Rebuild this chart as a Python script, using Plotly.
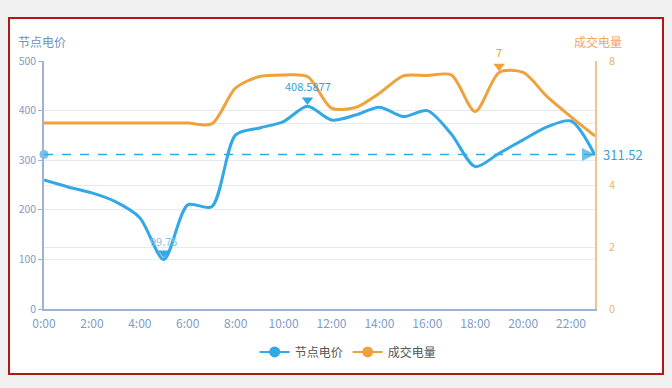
import plotly.graph_objects as go

# ---------------- data ----------------
hours = list(range(24))
x_tick_vals = [0, 2, 4, 6, 8, 10, 12, 14, 16, 18, 20, 22]
x_tick_text = ["0:00", "2:00", "4:00", "6:00", "8:00", "10:00", "12:00",
               "14:00", "16:00", "18:00", "20:00", "22:00"]

price_name = "节点电价"
volume_name = "成交电量"

price = [260, 246, 234, 216, 184.14, 99.75, 210, 206, 351, 365, 378, 408.5877,
         381, 391, 407, 388, 400, 353, 287, 314, 341, 367, 379, 310]
volume = [6.0, 6.0, 6.0, 6.0, 6.0, 6.0, 6.0, 5.97, 7.13, 7.5, 7.55, 7.5,
          6.48, 6.5, 6.96, 7.52, 7.53, 7.55, 6.37, 7.63, 7.63, 6.85, 6.2, 5.58]

left_ticks = [0, 100, 200, 300, 400, 500]
right_ticks = [0, 2, 4, 6, 8]
right_tick_text = ["0", "2", "4", "", "8"]

# ---------------- styles ----------------
BLUE = "#33a8e6"
ORANGE = "#f0a03c"
AXIS_BLUE = "#9db3d6"
LABEL_BLUE = "#7f9cc8"
GRID = "#e4e9f2"
FONT = "Noto Sans CJK SC"
PIN_LIFT_LEFT = 13    # about 6 px on the left axis
PIN_LIFT_RIGHT = 0.2  # about 6 px on the right axis

mean_price = sum(price) / len(price)
i_max = price.index(max(price))
i_min = price.index(min(price))
j_max = volume.index(max(volume))

fig = go.Figure()

# average mark line
fig.add_trace(go.Scatter(
    x=[hours[0], hours[-1]], y=[mean_price, mean_price],
    mode="lines+markers",
    line=dict(color=BLUE, width=1.3, dash="dash"),
    marker=dict(symbol=["circle", "arrow-right"], size=[9, 13], color=BLUE,
                line=dict(width=0)),
    hoverinfo="skip", showlegend=False, cliponaxis=False))

fig.add_trace(go.Scatter(
    x=hours, y=volume, yaxis="y2", mode="lines",
    line=dict(color=ORANGE, width=3, shape="spline", smoothing=0.8),
    showlegend=False, cliponaxis=False, name=volume_name))

fig.add_trace(go.Scatter(
    x=hours, y=price, mode="lines",
    line=dict(color=BLUE, width=3, shape="spline", smoothing=0.8),
    showlegend=False, cliponaxis=False, name=price_name))

# mark-point pins
fig.add_trace(go.Scatter(
    x=[hours[i_max], hours[i_min]],
    y=[price[i_max] + PIN_LIFT_LEFT, price[i_min] + PIN_LIFT_LEFT],
    mode="markers", marker=dict(symbol="triangle-down", size=10, color=BLUE),
    hoverinfo="skip", showlegend=False, cliponaxis=False))
fig.add_trace(go.Scatter(
    x=[hours[j_max]], y=[volume[j_max] + PIN_LIFT_RIGHT], yaxis="y2",
    mode="markers", marker=dict(symbol="triangle-down", size=10, color=ORANGE),
    hoverinfo="skip", showlegend=False, cliponaxis=False))

# legend-only entries
fig.add_trace(go.Scatter(x=[None], y=[None], mode="lines+markers", name=price_name,
                         line=dict(color=BLUE, width=2), marker=dict(size=11, color=BLUE)))
fig.add_trace(go.Scatter(x=[None], y=[None], mode="lines+markers", name=volume_name,
                         line=dict(color=ORANGE, width=2), marker=dict(size=11, color=ORANGE)))

annotations = [
    # axis names
    dict(text=price_name, xref="paper", yref="paper", x=-0.05, y=1.077,
         xanchor="left", yanchor="middle", showarrow=False,
         font=dict(size=12, color="#6f8fc4", family=FONT)),
    dict(text=volume_name, xref="paper", yref="paper", x=1.052, y=1.077,
         xanchor="right", yanchor="middle", showarrow=False,
         font=dict(size=12, color="#f0a860", family=FONT)),
    # mean label
    dict(text=f"{mean_price:.2f}", xref="paper", yref="y", x=1.01, y=mean_price,
         xanchor="left", yanchor="middle", showarrow=False,
         font=dict(size=13, color="#3aa0d8", family=FONT)),
    # max / min labels
    dict(text=str(price[i_max]), x=hours[i_max], y=price[i_max], xref="x", yref="y",
         showarrow=False, yshift=20, font=dict(size=11, color="#3aa0d8", family=FONT)),
    dict(text=str(price[i_min]), x=hours[i_min], y=price[i_min], xref="x", yref="y",
         showarrow=False, yshift=19, font=dict(size=11, color="#7fc0e6", family=FONT)),
    dict(text=str(int(volume[j_max])), x=hours[j_max], y=volume[j_max], xref="x", yref="y2",
         showarrow=False, yshift=20, font=dict(size=11, color=ORANGE, family=FONT)),
]

shapes = [
    dict(type="rect", xref="paper", yref="paper", x0=-0.0635, x1=1.1234,
         y0=-0.262, y1=1.1734, fillcolor="white",
         line=dict(color="#b01818", width=2), layer="below"),
]

fig.update_layout(
    width=672, height=388,
    margin=dict(l=44, r=77, t=61, b=79),
    paper_bgcolor="#f1f1f1", plot_bgcolor="rgba(0,0,0,0)",
    font=dict(family=FONT, size=12, color="#666"),
    xaxis=dict(range=[0, 23], tickvals=x_tick_vals, ticktext=x_tick_text,
               showgrid=False, zeroline=False, showline=True, linecolor=AXIS_BLUE,
               linewidth=1.5, ticks="", ticklabelstandoff=3,
               tickfont=dict(size=12, color=LABEL_BLUE)),
    yaxis=dict(range=[0, 500], tickvals=left_ticks, showgrid=True, gridcolor=GRID,
               zeroline=False, showline=True, linecolor=AXIS_BLUE, linewidth=1.5,
               ticks="outside", ticklen=4, tickcolor=AXIS_BLUE,
               tickfont=dict(size=10.5, color=LABEL_BLUE)),
    yaxis2=dict(range=[0, 8], tickvals=right_ticks, ticktext=right_tick_text,
                overlaying="y", side="right", showgrid=True, gridcolor=GRID,
                zeroline=False, showline=True, linecolor="#f3c489", linewidth=1.5,
                ticks="outside", ticklen=10, tickcolor="rgba(0,0,0,0)",
                tickfont=dict(size=11, color="#e8b46e")),
    legend=dict(orientation="h", x=0.552, y=-0.173, xanchor="center", yanchor="middle",
                bgcolor="rgba(0,0,0,0)", font=dict(size=12, color="#555"),
                itemwidth=30),
    annotations=annotations, shapes=shapes,
)

fig.write_html("out.html", config={"displayModeBar": False},
               post_script="document.body.style.margin='0';document.body.style.overflow='hidden';")
